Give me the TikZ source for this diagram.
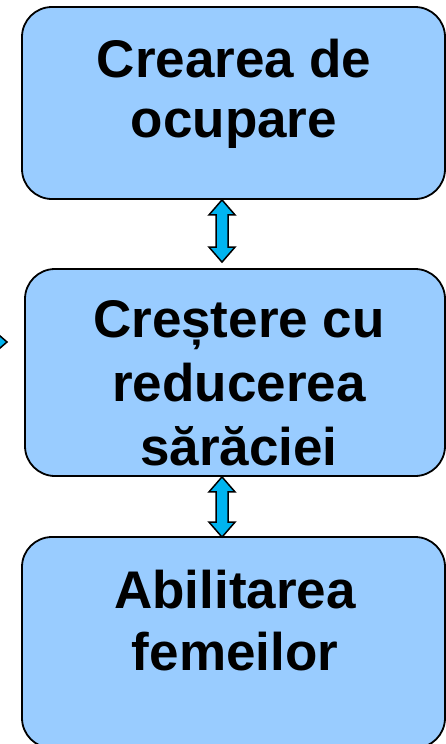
\documentclass[tikz,border=0pt]{standalone}
\usepackage{fontspec}
\setmainfont{Liberation Sans}
\usetikzlibrary{calc}
\definecolor{boxblue}{RGB}{153,204,255}
\definecolor{arrowblue}{RGB}{0,180,240}

\begin{document}
\begin{tikzpicture}[x=1pt, y=-1pt,
		box/.style = {shape=rectangle, rounded corners=30pt, draw,
			line width=1.8pt, fill=boxblue, inner sep=0pt},
		boxtext/.style = {align=center, inner sep=0pt},
		dblarrow/.style = {draw, fill=arrowblue, line width=1.5pt, line join=miter,
			to path={let \p1=(\tikztostart), \p2=(\tikztotarget) in
				(\p1) -- (\x1+13pt,\y1-15pt) -- (\x1+6pt,\y1-15pt) -- (\x1+6pt,\y2+15pt)
				-- (\x1+13pt,\y2+15pt) -- (\p2) -- (\x1-13pt,\y2+15pt) -- (\x1-6pt,\y2+15pt)
				-- (\x1-6pt,\y1-15pt) -- (\x1-13pt,\y1-15pt) -- cycle}},
		sglarrow/.style = {draw, fill=arrowblue, line width=1.5pt, line join=miter,
			to path={let \p1=(\tikztostart), \p2=(\tikztotarget) in
				(\x1,\y1+6pt) -- (\x2-15pt,\y1+6pt) -- (\x2-15pt,\y1+13pt) -- (\p2)
				-- (\x2-15pt,\y1-13pt) -- (\x2-15pt,\y1-6pt) -- (\x1,\y1-6pt) -- cycle}}]
	\useasboundingbox (0,0) rectangle (446,744);

	\node[box, minimum width=423pt, minimum height=192pt] (ocupare) at (233.5,103) {};
	\node[box, minimum width=420pt, minimum height=207pt] (crestere) at (235,372.5) {};
	\node[box, minimum width=423pt, minimum height=211pt] (femei) at (233.5,642.5) {};

	\node[boxtext, font=\fontsize{53}{60}\selectfont\bfseries] (ocuparetext) at (234,93.5)
		{Crearea de\\ocupare};
	\node[boxtext, font=\fontsize{53}{64}\selectfont\bfseries] (crestereText) at (239,383.5)
		{Creștere cu\\reducerea\\sărăciei};
	\node[boxtext, font=\fontsize{53}{62}\selectfont\bfseries] (femeitext) at (235,620.5)
		{Abilitarea\\femeilor};

	\coordinate (a1s) at ([xshift=-11.5pt]ocupare.south);
	\coordinate (a1e) at ([xshift=-13pt, yshift=6pt]crestere.north);
	\coordinate (a2s) at ([xshift=-13pt]crestere.south);
	\coordinate (a2e) at ([xshift=-11.5pt, yshift=-1pt]femei.north);
	\coordinate (ltail) at (-60,342);
	\coordinate (ltip) at (7,342);

	\draw[dblarrow] (a1s) to (a1e);
	\draw[dblarrow] (a2s) to (a2e);
	\draw[sglarrow] (ltail) to (ltip);
\end{tikzpicture}
\end{document}
